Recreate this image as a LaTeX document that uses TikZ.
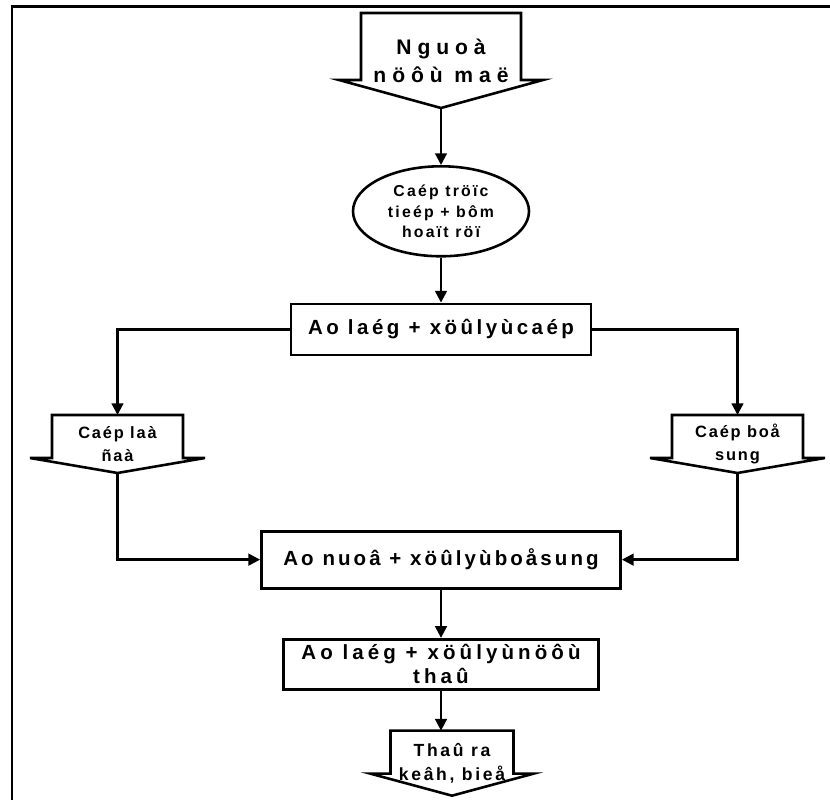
\documentclass[tikz,border=0pt]{standalone}
\usepackage{fontspec}
\setmainfont{Liberation Sans}
\usepackage{tikz}
\usetikzlibrary{shapes,arrows,arrows.meta,positioning,calc}

% outline of a box that points down: name, head overhang, head length
\newcommand{\downarrowbox}[3]{%
  \draw[outline] (#1.north west) -- (#1.north east) -- ($(#1.south east)+(0,#3)$)
    -- ++(#2,0) -- (#1.south) -- ($(#1.south west)+(-#2,#3)$) -- ++(#2,0) -- cycle;}
% bold text with a given size and letter spacing
\newcommand{\labelfont}[2]{\fontsize{#1}{#1}\selectfont\bfseries\addfontfeature{LetterSpace=#2}}

\begin{document}
\begin{tikzpicture}[
    node distance=1.5cm,
    outline/.style={line width=2.2pt, line join=miter},
    pointer/.style={rectangle, inner sep=1pt, outer sep=0pt, align=center, text centered},
    pump/.style={ellipse, draw, line width=2.2pt, minimum width=5.28cm, minimum height=2.7cm, align=center, inner sep=0pt},
    block/.style={rectangle, draw, line width=2.4pt, align=center, text centered, inner sep=2pt},
    arrow/.style={line width=2pt,-{Triangle[length=10pt,width=10pt]}}
]
\useasboundingbox (0,0) rectangle (24.9,-24);

% frame
\draw[line width=1.8pt] (24.9,-0.195) -- (0.36,-0.195) -- (0.36,-24);

\node[pointer, minimum width=4.8cm, minimum height=2.85cm, font=\labelfont{18}{28}] (source) at (13.23,-1.815) {Nguoà\\[6pt]nöôù maë};
\node[pump, below=1.71cm of source, font=\labelfont{13.5}{14}] (pumping) {Caép tröïc\\[4pt]tieép + bôm\\[4pt]hoaït röï};
\node[block, minimum width=9cm, minimum height=1.53cm, below=1.35cm of pumping, font=\labelfont{17.5}{17}] (settle) {Ao laég + xöûlyùcaép};
\node[pointer, minimum width=3.93cm, minimum height=1.74cm, font=\labelfont{14}{11}] (firstfill) at (3.525,-13.32) {Caép laà\\[5pt]ñaà};
\node[pointer, minimum width=3.93cm, minimum height=1.74cm, font=\labelfont{14}{11}] (topup) at (22.125,-13.32) {Caép boå\\[5pt]sung};
\node[block, minimum width=10.77cm, minimum height=1.71cm, below=5.2cm of settle, font=\labelfont{17.5}{15}] (rearing) {Ao nuoâ + xöûlyùboåsung};
\node[block, minimum width=9.45cm, minimum height=1.5cm, below=1.45cm of rearing, font=\labelfont{17.5}{20}] (discharge) {Ao laég + xöûlyùnöôù\\[3pt]thaû};
\node[pointer, minimum width=3.69cm, minimum height=1.95cm, below=1.2cm of discharge, xshift=0.33cm, font=\labelfont{15}{15}] (outlet) {Thaû ra\\[5pt]keâh, bieå};

\downarrowbox{source}{0.66cm}{0.84cm}
\downarrowbox{firstfill}{0.66cm}{0.45cm}
\downarrowbox{topup}{0.66cm}{0.45cm}
\downarrowbox{outlet}{0.6cm}{0.66cm}

\draw[arrow] (source) -- (pumping);
\draw[arrow] (pumping) -- (settle);
\draw[arrow] (settle.west) -| (firstfill.north);
\draw[arrow] (settle.east) -| (topup.north);
\draw[arrow] (firstfill.south) |- (rearing.west);
\draw[arrow] (topup.south) |- (rearing.east);
\draw[arrow] (rearing) -- (discharge);
\draw[arrow] (discharge.south) -- (discharge.south |- outlet.north);

\end{tikzpicture}
\end{document}
